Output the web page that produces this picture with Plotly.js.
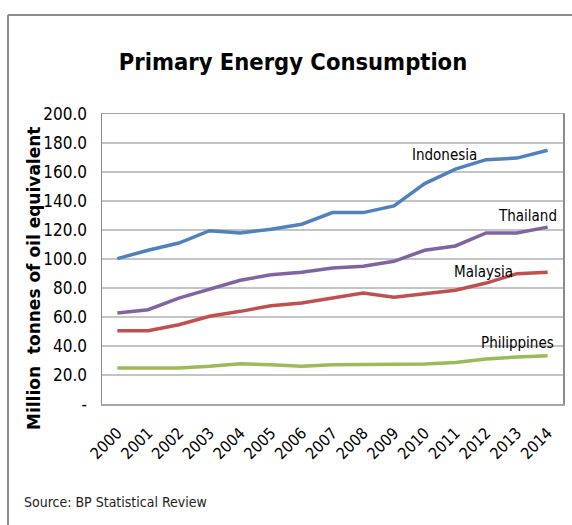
<!DOCTYPE html>
<html>
<head>
<meta charset="utf-8">
<script src="https://cdn.plot.ly/plotly-3.0.1.min.js"></script>
<style>
html,body{margin:0;padding:0;background:#fff;}
#chart{width:572px;height:525px;}
</style>
</head>
<body>
<div id="chart"></div>
<script>
const years = ["2000","2001","2002","2003","2004","2005","2006","2007","2008","2009","2010","2011","2012","2013","2014"];
const indonesia   = [100.3, 106, 111, 119.5, 118, 120.5, 124, 132, 132, 136.6, 152, 162, 168.5, 169.6, 175];
const thailand    = [62.8, 65, 73, 79.3, 85.3, 89.2, 90.8, 93.8, 95, 98.4, 106, 109, 118, 118, 122];
const malaysia    = [50.6, 50.6, 54.7, 60.5, 63.9, 67.8, 69.7, 73, 76.6, 73.6, 75.9, 78.4, 83.4, 89.9, 90.8];
const philippines = [24.8, 24.8, 24.8, 26, 27.8, 27.1, 26, 27.1, 27.1, 27.1, 27.6, 28.7, 31, 32.4, 33.3];
const yTickVals = [0, 20, 40, 60, 80, 100, 120, 140, 160, 180, 200];
const yTickText = ["-", "20.0", "40.0", "60.0", "80.0", "100.0", "120.0", "140.0", "160.0", "180.0", "200.0"];

const condensed = "DejaVu Sans Condensed, DejaVu Sans, sans-serif";

function line(y, color, name) {
  return {x: years, y: y, type: "scatter", mode: "lines", name: name,
    line: {color: color, width: 3.5}, hoverinfo: "skip"};
}

const data = [
  line(indonesia, "#4F81BD", "Indonesia"),
  line(thailand, "#8064A2", "Thailand"),
  line(malaysia, "#C0504D", "Malaysia"),
  line(philippines, "#9BBB59", "Philippines")
];

const L = 102, T = 114, W = 461, H = 290;
const px = X => (X - L) / W;
const py = Y => (T + H - Y) / H;

function label(text, X, Y) {
  return {text: text, xref: "paper", yref: "paper", x: px(X), y: py(Y), showarrow: false,
    xanchor: "center", yanchor: "middle", font: {family: condensed, size: 15, color: "#000"}};
}

const layout = {
  width: 572, height: 525,
  margin: {l: L, r: 572 - L - W, t: T, b: 525 - T - H},
  paper_bgcolor: "#fff", plot_bgcolor: "#fff",
  showlegend: false,
  title: {text: "Primary Energy Consumption", font: {family: condensed, size: 23.5, color: "#000", weight: "bold"},
    x: 293/572, xref: "container", xanchor: "center", y: 1 - 62/525, yref: "container", yanchor: "middle"},
  xaxis: {type: "category", range: [-0.5, 14.5], showgrid: false, zeroline: false,
    showline: true, mirror: true, linecolor: "#a6a6a6", linewidth: 1.5,
    tickangle: -45, tickfont: {family: condensed, size: 16, color: "#000"},
    ticks: "", ticklabelstandoff: 12, fixedrange: true},
  yaxis: {range: [0, 200], tickvals: yTickVals, ticktext: yTickText, showgrid: true,
    gridcolor: "#c4c4c4", gridwidth: 1.5, zeroline: false,
    showline: true, mirror: true, linecolor: "#8c8c8c", linewidth: 1.5,
    tickfont: {family: condensed, size: 17, color: "#000"}, ticks: "", ticklabelstandoff: 10, fixedrange: true},
  shapes: [
    {type: "line", xref: "paper", yref: "paper", x0: px(8), x1: px(8), y0: py(15), y1: py(540),
      line: {color: "#8c8c8c", width: 2}},
    {type: "line", xref: "paper", yref: "paper", x0: px(8), x1: px(600), y0: py(15), y1: py(15),
      line: {color: "#8c8c8c", width: 2}}
  ],
  annotations: [
    {text: "Million  tonnes of oil equivalent", textangle: -90, xref: "paper", yref: "paper",
      x: px(34), y: py(279), showarrow: false, xanchor: "center", yanchor: "middle",
      font: {family: "DejaVu Sans, sans-serif", size: 17, color: "#000", weight: "bold"}},
    label("Indonesia", 444, 155),
    label("Thailand", 527, 216),
    label("Malaysia", 483, 272),
    label("Philippines", 517, 343),
    {text: "Source: BP Statistical Review", xref: "paper", yref: "paper", x: px(22), y: py(502),
      xanchor: "left", yanchor: "middle", showarrow: false,
      font: {family: condensed, size: 14, color: "#222"}}
  ]
};

Plotly.newPlot("chart", data, layout, {displayModeBar: false, staticPlot: true});
</script>
</body>
</html>
